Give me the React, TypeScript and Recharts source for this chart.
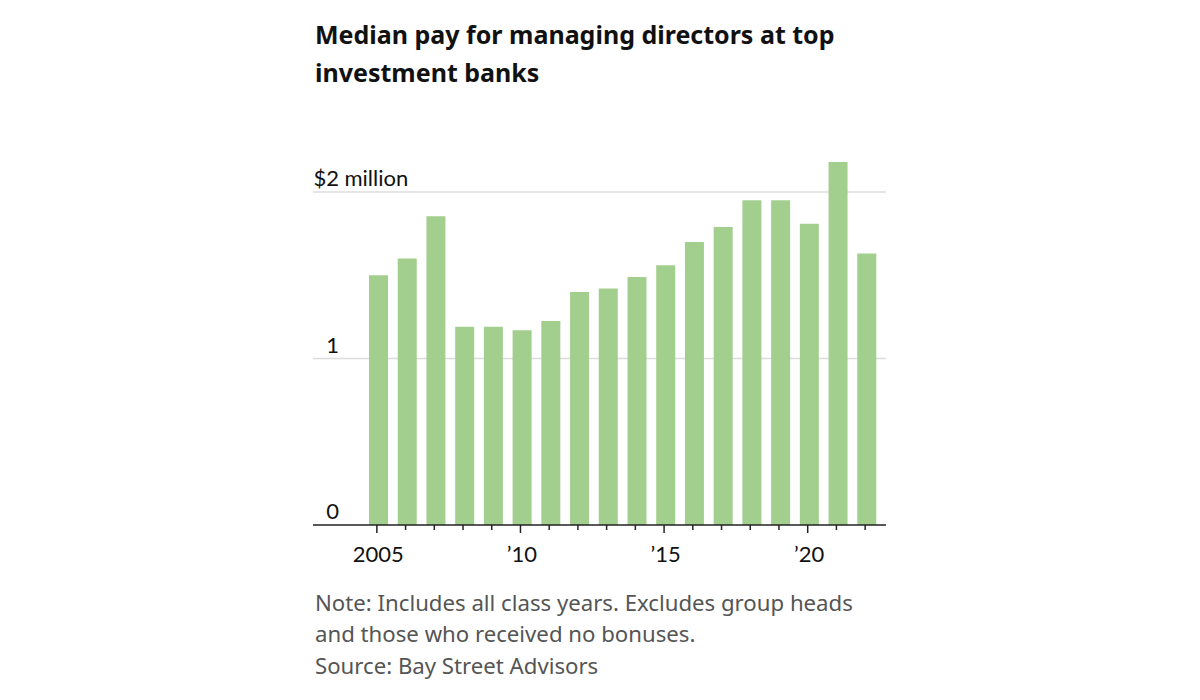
import React from "react";
import { BarChart, Bar, XAxis, YAxis, CartesianGrid } from "recharts";

// Median pay, $ millions
const YEARS = [
  2005, 2006, 2007, 2008, 2009, 2010, 2011, 2012, 2013, 2014, 2015, 2016,
  2017, 2018, 2019, 2020, 2021, 2022,
];
const PAY = [
  1.5, 1.6, 1.855, 1.19, 1.19, 1.17, 1.225, 1.4, 1.42, 1.49, 1.56, 1.7,
  1.79, 1.95, 1.95, 1.81, 2.18, 1.63,
];
const Y_TICKS = [0, 1, 2];
const GRID_VALUES = [1, 2];
const LABELED_YEARS = [2005, 2010, 2015, 2020];

const FONT = "'Noto Sans', Lato, sans-serif";
const TICK_FONT = "Lato, 'Noto Sans', sans-serif";
const BAR_COLOR = "#a3cf8e";

const data = YEARS.map((year, i) => ({ year, pay: PAY[i] }));

const yearLabel = (y: number) =>
  y === 2005 ? String(y) : "\u2019" + String(y).slice(2);

const XTick = (props: any) => {
  const { x, y, payload } = props;
  const major = LABELED_YEARS.includes(payload.value);
  return (
    <g>
      <line x1={x - 1.5} x2={x - 1.5} y1={y} y2={y + (major ? 8 : 5)} stroke="#222" strokeWidth={1.5} />
      {major && (
        <text x={x} y={y + 37} textAnchor="middle" fontFamily={TICK_FONT} fontSize={22} fill="#111">
          {yearLabel(payload.value)}
        </text>
      )}
    </g>
  );
};

// digits right-aligned, unit hanging to the right on the top tick
const YTick = (props: any) => {
  const { y, payload } = props;
  const top = payload.value === 2;
  return (
    <g>
      <text x={26} y={y - 6} textAnchor="end" fontFamily={TICK_FONT} fontSize={22} fill="#111">
        {top ? "$2" : payload.value}
      </text>
      {top && (
        <text x={31.5} y={y - 6} textAnchor="start" fontFamily={TICK_FONT} fontSize={22} fill="#111">
          million
        </text>
      )}
    </g>
  );
};

export default function App() {
  return (
    <div
      style={{
        position: "absolute",
        top: 0,
        left: 0,
        width: 1200,
        height: 700,
        background: "#fff",
        fontFamily: FONT,
      }}
    >
      <div
        style={{
          position: "absolute",
          left: 315,
          top: 16,
          width: 620,
          fontSize: 25,
          lineHeight: "37.5px",
          fontWeight: 700,
          color: "#111",
        }}
      >
        Median pay for managing directors at top
        <br />
        investment banks
      </div>

      <div style={{ position: "absolute", left: 313, top: 140 }}>
        <BarChart
          width={573}
          height={440}
          data={data}
          margin={{ top: 18.7, right: 0, left: 0, bottom: 0 }}
        >
          <CartesianGrid
            vertical={false}
            horizontalValues={GRID_VALUES}
            stroke="#dcdcdc"
            strokeWidth={1.5}
          />
          <YAxis
            mirror
            width={60}
            domain={[0, 2.2]}
            ticks={Y_TICKS}
            axisLine={false}
            tickLine={false}
            tick={<YTick />}
            allowDataOverflow
          />
          <XAxis
            dataKey="year"
            interval={0}
            height={55}
            padding={{ left: 51, right: 5 }}
            axisLine={{ stroke: "#222", strokeWidth: 1.5 }}
            tickLine={false}
            tickSize={0}
            tickMargin={0}
            tick={<XTick />}
          />
          <Bar dataKey="pay" fill={BAR_COLOR} barSize={19} isAnimationActive={false} />
        </BarChart>
      </div>

      <div
        style={{
          position: "absolute",
          left: 315,
          top: 586.5,
          width: 660,
          fontSize: 22.2,
          lineHeight: "31.7px",
          color: "#555",
        }}
      >
        Note: Includes all class years. Excludes group heads
        <br />
        and those who received no bonuses.
        <br />
        Source: Bay Street Advisors
      </div>
    </div>
  );
}
